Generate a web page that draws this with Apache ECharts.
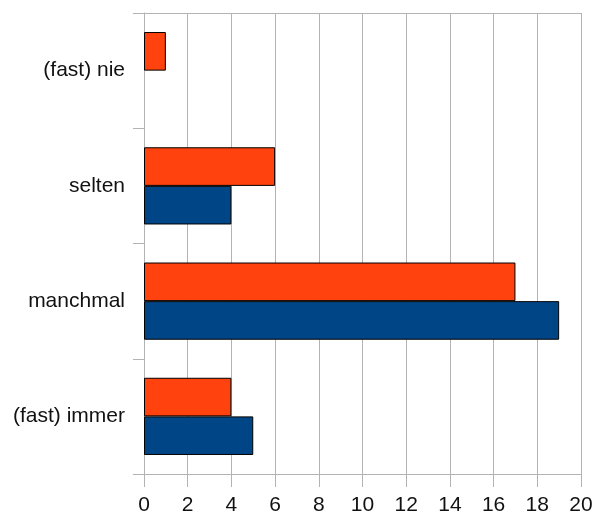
<!DOCTYPE html>
<html>
<head>
<meta charset="utf-8">
<script src="https://cdn.jsdelivr.net/npm/echarts@6/dist/echarts.min.js"></script>
<style>
  html, body { margin: 0; padding: 0; background: #fff; }
  #chart { width: 606px; height: 516px; }
</style>
</head>
<body>
<div id="chart"></div>
<script>
// Answer categories, listed bottom to top along the vertical axis
const categories = ['(fast) immer', 'manchmal', 'selten', '(fast) nie'];
// Response counts per group
const orangeValues = [4, 17, 6, 1];
const blueValues = [5, 19, 4, 0];
// Value axis range and tick step
const xMin = 0;
const xMax = 20;
const xStep = 2;

const chart = echarts.init(document.getElementById('chart'), null, { renderer: 'canvas' });

const gridGrey = '#b3b3b3';
const labelFont = { fontFamily: 'Liberation Sans, Arial, sans-serif', fontSize: 21, color: '#111' };

// zero-length bars get no outline so nothing is drawn for them
const toBarData = (values) => values.map((v) => (v === 0 ? { value: v, itemStyle: { borderWidth: 0 } } : v));

chart.setOption({
  animation: false,
  backgroundColor: '#ffffff',
  grid: { left: 144, right: 25, top: 13, bottom: 42, containLabel: false },
  xAxis: [
    {
      type: 'value',
      position: 'bottom',
      min: xMin,
      max: xMax,
      interval: xStep,
      axisLine: { show: true, lineStyle: { color: gridGrey, width: 1 } },
      axisTick: { show: true, length: 13, lineStyle: { color: gridGrey, width: 1 } },
      axisLabel: Object.assign({ margin: 21 }, labelFont),
      splitLine: { show: true, lineStyle: { color: gridGrey, width: 1 } }
    },
    {
      // top frame line
      type: 'value',
      position: 'top',
      min: xMin,
      max: xMax,
      interval: xStep,
      axisLine: { show: true, lineStyle: { color: gridGrey, width: 1 } },
      axisTick: { show: false },
      axisLabel: { show: false },
      splitLine: { show: false }
    }
  ],
  yAxis: {
    type: 'category',
    data: categories,
    axisLine: { show: true, lineStyle: { color: gridGrey, width: 1 } },
    axisTick: { show: true, length: 11, alignWithLabel: false, lineStyle: { color: gridGrey, width: 1 } },
    axisLabel: Object.assign({ margin: 19 }, labelFont),
    splitLine: { show: false }
  },
  series: [
    {
      type: 'bar',
      name: 'orange',
      data: toBarData(orangeValues),
      barGap: '0%',
      barCategoryGap: '33%',
      itemStyle: { color: '#ff420e', borderColor: '#000', borderWidth: 1 }
    },
    {
      type: 'bar',
      name: 'blue',
      data: toBarData(blueValues),
      barGap: '0%',
      barCategoryGap: '33%',
      itemStyle: { color: '#004586', borderColor: '#000', borderWidth: 1 }
    }
  ]
});
</script>
</body>
</html>
